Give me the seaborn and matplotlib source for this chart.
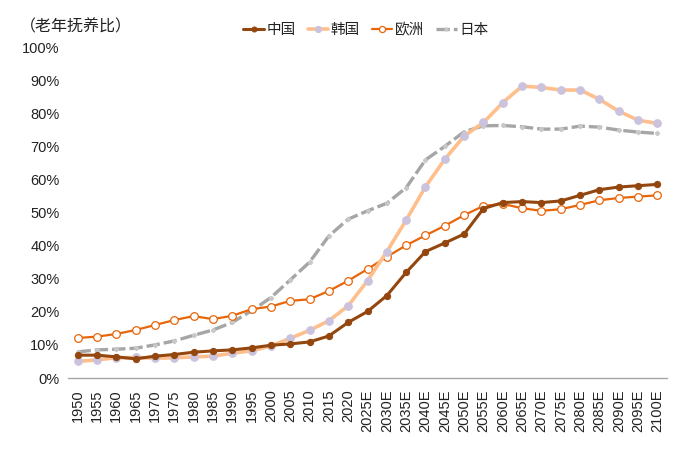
import matplotlib
matplotlib.use("Agg")
import matplotlib.pyplot as plt
import seaborn as sns
import numpy as np
import pandas as pd

years = ["1950", "1955", "1960", "1965", "1970", "1975", "1980", "1985", "1990", "1995",
         "2000", "2005", "2010", "2015", "2020", "2025E", "2030E", "2035E", "2040E", "2045E",
         "2050E", "2055E", "2060E", "2065E", "2070E", "2075E", "2080E", "2085E", "2090E",
         "2095E", "2100E"]

china = [6.9, 6.9, 6.4, 5.8, 6.6, 7.1, 7.8, 8.2, 8.5, 9.1,
         9.9, 10.3, 10.9, 12.7, 16.8, 20.1, 24.9, 31.9, 38.2, 40.8,
         43.5, 51.2, 53.0, 53.3, 53.0, 53.5, 55.2, 56.9, 57.7, 58.1, 58.5]
korea = [5.0, 5.5, 6.1, 6.2, 6.0, 6.1, 6.4, 6.6, 7.5, 8.2,
         9.7, 12.0, 14.4, 17.3, 21.8, 29.4, 38.2, 47.7, 57.8, 66.1,
         73.1, 77.2, 83.2, 88.2, 87.8, 87.0, 87.0, 84.2, 80.6, 77.9, 76.9]
europe = [12.1, 12.5, 13.3, 14.5, 16.0, 17.5, 18.7, 17.8, 18.8, 20.8,
          21.6, 23.3, 23.8, 26.3, 29.4, 32.9, 36.6, 40.1, 43.1, 46.0,
          49.2, 52.0, 52.6, 51.3, 50.5, 51.0, 52.3, 53.7, 54.4, 54.8, 55.2]
japan = [7.9, 8.5, 8.7, 9.0, 10.0, 11.2, 12.9, 14.5, 16.8, 20.3,
         24.3, 29.6, 35.0, 42.9, 48.0, 50.5, 52.8, 57.5, 65.9, 70.0,
         74.4, 76.2, 76.3, 75.9, 75.2, 75.2, 76.1, 75.8, 74.9, 74.3, 73.9]

series_names = ["中国", "韩国", "欧洲", "日本"]

sns.set_theme(style="white")
plt.rcParams['font.family'] = ['Liberation Sans', 'Noto Sans CJK SC', 'DejaVu Sans']

fig = plt.figure(figsize=(7.0, 4.61), dpi=100)
ax = fig.add_axes([0.097, 0.18, 0.856, 0.718])

x = np.arange(len(years))
df = pd.DataFrame({"x": x, "中国": china, "韩国": korea, "欧洲": europe, "日本": japan})

sns.lineplot(data=df, x="x", y="日本", ax=ax, color="#A6A6A6", linewidth=2.4,
             dashes=False, label="日本", marker="P", markersize=3,
             markerfacecolor="#C8C8C8", markeredgecolor="#C8C8C8", zorder=2)
ax.lines[-1].set_linestyle((0, (4, 1.2)))
sns.lineplot(data=df, x="x", y="欧洲", ax=ax, color="#E8650A", linewidth=1.6,
             label="欧洲", marker="o", markersize=5.5, markerfacecolor="white",
             markeredgecolor="#E8650A", markeredgewidth=0.9, zorder=3)
sns.lineplot(data=df, x="x", y="韩国", ax=ax, color="#FFBF8C", linewidth=2.6,
             label="韩国", marker="o", markersize=5.5, markerfacecolor="#CBC3DE",
             markeredgecolor="#CBC3DE", zorder=4)
sns.lineplot(data=df, x="x", y="中国", ax=ax, color="#93470E", linewidth=2.2,
             label="中国", marker="o", markersize=4.5, markerfacecolor="#93470E",
             markeredgecolor="#93470E", zorder=5)

ax.set_xlim(-0.5, len(years) - 0.5)
ax.set_ylim(0, 100)
ax.set_yticks(np.arange(0, 101, 10))
ax.set_yticklabels([f"{v}%" for v in range(0, 101, 10)], fontsize=10.5, color="#222222")
ax.set_xticks(x)
ax.set_xticklabels(years, rotation=90, fontsize=10.5, color="#222222")
ax.tick_params(axis="both", length=0, pad=6)
ax.tick_params(axis="x", pad=8)
ax.set_xlabel("")
ax.set_ylabel("")
for s in ["left", "right", "top"]:
    ax.spines[s].set_visible(False)
ax.spines["bottom"].set_color("#A6A6A6")
ax.spines["bottom"].set_linewidth(1.0)
ax.grid(False)

handles, labels = ax.get_legend_handles_labels()
order = [labels.index(n) for n in series_names]
leg = ax.legend([handles[i] for i in order], [labels[i] for i in order],
                loc="center", bbox_to_anchor=(0.5 * (245 + 487) / 700, 1 - 30 / 461),
                bbox_transform=fig.transFigure, ncol=4, frameon=False,
                handlelength=1.4, handletextpad=0.2, columnspacing=0.8,
                markerscale=0.8,
                prop={'family': ['Noto Sans CJK SC', 'DejaVu Sans'], 'size': 10.5})
for t in leg.get_texts():
    t.set_color("#222222")

fig.text(20 / 700, 1 - 27 / 461, "（老年抚养比）", fontsize=11.5, color="#222222",
         family=['Noto Sans CJK SC', 'DejaVu Sans'], va="center", ha="left")

fig.savefig("out.png", dpi=100)
